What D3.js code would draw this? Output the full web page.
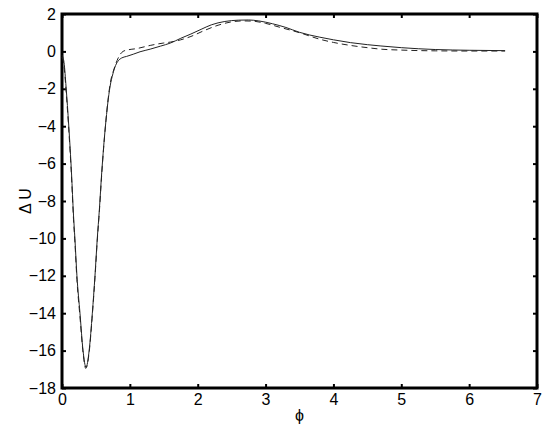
<!DOCTYPE html>
<html>
<head>
<meta charset="utf-8">
<script src="https://cdn.jsdelivr.net/npm/d3@7"></script>
<style>
  body { margin: 0; background: #fff; }
  text { font-family: "Liberation Sans", Arial, sans-serif; }
</style>
</head>
<body>
<script>
// solid curve
var solidPhi = [0, 0.03, 0.06, 0.1, 0.14, 0.17, 0.19, 0.22, 0.265, 0.31, 0.354,
                0.4, 0.447, 0.486, 0.52, 0.55, 0.585, 0.64, 0.707, 0.75, 0.79, 0.83, 0.88, 0.95, 1.05, 1.15,
                1.3, 1.45, 1.6, 1.75, 1.9, 2.05, 2.2, 2.4, 2.6, 2.75, 2.9, 3.1, 3.3, 3.5,
                3.8, 4.0, 4.25, 4.5, 4.7, 5.0, 5.5, 6.0, 6.53];
var solidU = [-0.2, -0.6, -1.9, -4.0, -6.5, -8.8, -10.0, -12.0, -14.0, -16.0, -16.9,
              -16.0, -14.0, -12.0, -10.0, -8.5, -6.5, -4.0, -1.9, -1.2, -0.75, -0.5, -0.35, -0.27, -0.15, -0.02,
              0.12, 0.28, 0.45, 0.7, 0.93, 1.18, 1.42, 1.6, 1.67, 1.68, 1.63, 1.48, 1.28, 1.02,
              0.76, 0.62, 0.47, 0.36, 0.29, 0.2, 0.1, 0.06, 0.04];

// dashed curve
var dashedPhi = [0, 0.03, 0.06, 0.1, 0.14, 0.17, 0.19, 0.22, 0.265, 0.31, 0.35,
                 0.4, 0.447, 0.486, 0.52, 0.55, 0.585, 0.64, 0.707, 0.77, 0.81, 0.85, 0.9, 0.97, 1.1,
                 1.3, 1.5, 1.6, 1.75, 1.9, 2.1, 2.3, 2.5, 2.65, 2.8, 3.0, 3.2, 3.5,
                 3.8, 4.0, 4.25, 4.5, 4.7, 5.0, 5.5, 6.0, 6.53];
var dashedU = [-0.3, -0.8, -2.1, -4.2, -6.7, -9.0, -10.2, -12.2, -14.2, -16.1, -16.95,
               -16.1, -14.1, -12.1, -10.1, -8.6, -6.6, -4.0, -1.8, -0.9, -0.5, -0.2, 0.0, 0.08, 0.15,
               0.32, 0.45, 0.5, 0.62, 0.8, 1.12, 1.4, 1.58, 1.63, 1.62, 1.5, 1.3, 1.0,
               0.65, 0.48, 0.32, 0.2, 0.12, 0.07, 0.03, 0.02, 0.02];

var xTicks = [0, 1, 2, 3, 4, 5, 6, 7];
var yTicks = [2, 0, -2, -4, -6, -8, -10, -12, -14, -16, -18];

var W = 546, H = 431;
var mLeft = 62, mRight = 537, mTop = 14, mBottom = 388;

var svg = d3.select('body').append('svg')
    .attr('width', W)
    .attr('height', H);

var x = d3.scaleLinear().domain([0, 7]).range([mLeft, mRight]);
var y = d3.scaleLinear().domain([-18, 2]).range([mBottom, mTop]);

var tickLen = 4;

// axes, ticks inward, on all four sides
svg.append('g')
    .attr('transform', 'translate(0,' + mBottom + ')')
    .call(d3.axisBottom(x).tickValues(xTicks).tickSizeInner(-tickLen).tickSizeOuter(0).tickPadding(6)
      .tickFormat(d3.format('d')));
svg.append('g')
    .attr('transform', 'translate(0,' + mTop + ')')
    .call(d3.axisTop(x).tickValues(xTicks).tickSizeInner(-tickLen).tickSizeOuter(0).tickFormat(''));
svg.append('g')
    .attr('transform', 'translate(' + mLeft + ',0)')
    .call(d3.axisLeft(y).tickValues(yTicks).tickSizeInner(-tickLen).tickSizeOuter(0).tickPadding(6)
      .tickFormat(function(d) { return d < 0 ? '\u2212' + Math.abs(d) : d; }));
svg.append('g')
    .attr('transform', 'translate(' + mRight + ',0)')
    .call(d3.axisRight(y).tickValues(yTicks).tickSizeInner(-tickLen).tickSizeOuter(0).tickFormat(''));

svg.selectAll('.domain').remove();
svg.selectAll('.tick line').attr('stroke', '#000').attr('stroke-width', 2);
svg.selectAll('.tick text')
    .attr('font-size', '16px')
    .attr('fill', '#000')
    .attr('font-family', '"Liberation Sans", Arial, sans-serif');

// frame
svg.append('rect')
    .attr('x', mLeft)
    .attr('y', mTop)
    .attr('width', mRight - mLeft)
    .attr('height', mBottom - mTop)
    .attr('fill', 'none')
    .attr('stroke', '#000')
    .attr('stroke-width', 3);

var line = d3.line()
    .x(function(d) { return x(d[0]); })
    .y(function(d) { return y(d[1]); })
    .curve(d3.curveMonotoneX);

svg.append('path')
    .datum(d3.zip(dashedPhi, dashedU))
    .attr('d', line)
    .attr('fill', 'none')
    .attr('stroke', '#222')
    .attr('stroke-width', 1)
    .attr('stroke-dasharray', '6,4');

svg.append('path')
    .datum(d3.zip(solidPhi, solidU))
    .attr('d', line)
    .attr('fill', 'none')
    .attr('stroke', '#222')
    .attr('stroke-width', 1);

// labels
svg.append('text')
    .attr('x', (mLeft + mRight) / 2)
    .attr('y', 421)
    .attr('text-anchor', 'middle')
    .attr('font-size', '16px')
    .text('\u03D5');

svg.append('text')
    .attr('transform', 'translate(31,' + (mTop + mBottom) / 2 + ') rotate(-90)')
    .attr('text-anchor', 'middle')
    .attr('font-size', '16px')
    .text('\u0394 U');
</script>
</body>
</html>
